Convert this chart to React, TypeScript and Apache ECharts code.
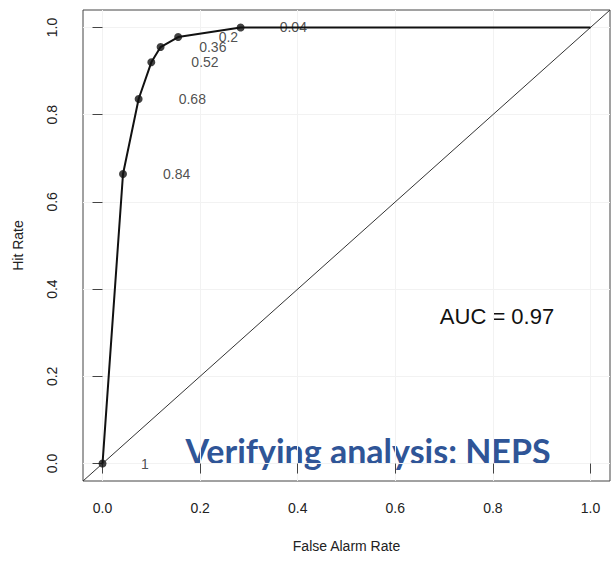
import React, { useEffect, useRef } from "react";
import * as echarts from "echarts";

const falseAlarmRate = [0, 0.042, 0.074, 0.1, 0.119, 0.155, 0.283, 1];
const hitRate = [0, 0.664, 0.836, 0.92, 0.955, 0.978, 1.0, 1.0];
const thresholdLabels = ["1", "0.84", "0.68", "0.52", "0.36", "0.2", "0.04"];
const thresholdLabelX = [0.087, 0.152, 0.184, 0.21, 0.226, 0.258, 0.391];
const tickValues = [0, 0.2, 0.4, 0.6, 0.8, 1.0];
const aucText = "AUC = 0.97";
const titleText = "Verifying analysis: NEPS";

export default function App() {
  const ref = useRef<HTMLDivElement>(null);
  useEffect(() => {
    if (!ref.current) return;
    const chart = echarts.init(ref.current, undefined, { renderer: "svg" });
    const font = "'Liberation Sans', Arial, Helvetica, sans-serif";
    const curve = falseAlarmRate.map((x, i) => [x, hitRate[i]]);
    const pts = curve.slice(0, 7);
    const labels = thresholdLabels.map((t, i) => ({ value: [thresholdLabelX[i], hitRate[i]], name: t }));
    chart.setOption({
      animation: false,
      backgroundColor: "#ffffff",
      grid: { left: 83, top: 10, width: 527, height: 471, show: true, borderColor: "#444", borderWidth: 1, containLabel: false },
      xAxis: {
        type: "value",
        min: -0.04,
        max: 1.04,
        name: "False Alarm Rate",
        nameLocation: "middle",
        nameGap: 58,
        nameTextStyle: { fontFamily: font, fontSize: 14, color: "#222" },
        axisLine: { show: false },
        axisTick: { show: true, length: 10, customValues: tickValues, lineStyle: { color: "#444" } },
        axisLabel: { customValues: tickValues, margin: 20, fontFamily: font, fontSize: 14, color: "#222", formatter: (v: number) => v.toFixed(1) },
        splitLine: { show: true, lineStyle: { color: "#f2f2f2" } },
      },
      yAxis: {
        type: "value",
        min: -0.04,
        max: 1.04,
        name: "Hit Rate",
        nameLocation: "middle",
        nameGap: 58,
        nameRotate: 90,
        nameTextStyle: { fontFamily: font, fontSize: 14, color: "#222" },
        axisLine: { show: false },
        axisTick: { show: true, length: 10, customValues: tickValues, lineStyle: { color: "#444" } },
        axisLabel: { customValues: tickValues, rotate: 90, margin: 24, fontFamily: font, fontSize: 14, color: "#222", formatter: (v: number) => v.toFixed(1) },
        splitLine: { show: true, lineStyle: { color: "#f2f2f2" } },
      },
      series: [
        {
          type: "line",
          data: [[-0.04, -0.04], [1.04, 1.04]],
          symbol: "none",
          lineStyle: { color: "#333", width: 1 },
          silent: true,
        },
        {
          type: "line",
          data: curve,
          symbol: "none",
          lineStyle: { color: "#111", width: 2 },
        },
        {
          type: "scatter",
          data: pts,
          symbol: "circle",
          symbolSize: 8,
          itemStyle: { color: "#111" },
        },
        {
          type: "scatter",
          data: labels,
          symbolSize: 0,
          label: {
            show: true,
            position: "inside",
            formatter: (p: any) => p.name,
            fontFamily: font,
            fontSize: 14,
            color: "#222",
          },
        },
      ],
      graphic: [
        {
          type: "text",
          x: 497,
          y: 316,
          style: { text: aucText, fontFamily: font, fontSize: 22, fill: "#111", align: "center", verticalAlign: "middle" },
        },
        {
          type: "text",
          x: 368,
          y: 450,
          style: { text: titleText, fontFamily: "Lato, 'Open Sans', sans-serif", fontWeight: "bold", fontSize: 34, fill: "#2F5597", align: "center", verticalAlign: "middle" },
        },
      ],
    });
    return () => chart.dispose();
  }, []);
  return <div ref={ref} style={{ position: "absolute", left: 0, top: 0, width: 616, height: 562 }} />;
}
